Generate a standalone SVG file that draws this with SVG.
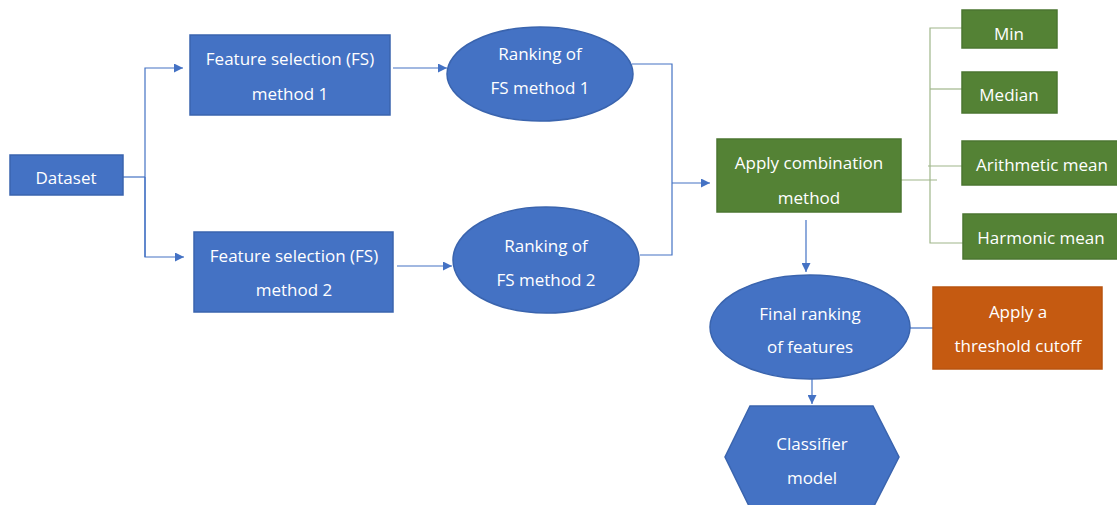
<svg xmlns="http://www.w3.org/2000/svg" width="1117" height="505" viewBox="0 0 1117 505">
  <defs>
    <style>
      .blue { fill: #4472C4; stroke: #3A64AE; stroke-width: 1.5; }
      .green { fill: #548235; stroke: #4B7630; stroke-width: 1.5; }
      .orange { fill: #C55A11; stroke: #B9540F; stroke-width: 1.5; }
      .lbl { font-family: "Open Sans", "Noto Sans", sans-serif; font-size: 17px; fill: #FFFFFF; text-anchor: middle; dominant-baseline: central; }
      .flow { fill: none; stroke: #4472C4; stroke-width: 1.2; }
      .tree { fill: none; stroke: #9FB68A; stroke-width: 1.2; }
    </style>
    <marker id="arrow" viewBox="0 0 10 10" refX="10" refY="5" markerWidth="9" markerHeight="9" markerUnits="userSpaceOnUse" orient="auto">
      <path d="M0,0 L10,5 L0,10 Z" fill="#4472C4"/>
    </marker>
  </defs>

  <!-- connectors -->
  <g id="connectors">
    <polyline class="flow" points="123,177 145,177"/>
    <polyline class="flow" points="145,257 145,68 183,68" marker-end="url(#arrow)"/>
    <polyline class="flow" points="145,177 145,257 184,257" marker-end="url(#arrow)"/>
    <line class="flow" x1="393" y1="68" x2="447" y2="68" marker-end="url(#arrow)"/>
    <line class="flow" x1="397" y1="266" x2="452" y2="266" marker-end="url(#arrow)"/>
    <polyline class="flow" points="632,64 672,64 672,255 640,255"/>
    <line class="flow" x1="672" y1="183" x2="710" y2="183" marker-end="url(#arrow)"/>
    <line class="flow" x1="806" y1="220" x2="806" y2="272" marker-end="url(#arrow)"/>
    <line class="flow" x1="910" y1="328" x2="933" y2="328"/>
    <line class="flow" x1="812" y1="378" x2="812" y2="404" marker-end="url(#arrow)"/>
    <!-- combination options -->
    <line class="tree" x1="901" y1="180" x2="937" y2="180"/>
    <polyline class="tree" points="962,28 930,28 930,243 963,243"/>
    <line class="tree" x1="930" y1="89" x2="962" y2="89"/>
    <line class="tree" x1="928" y1="166" x2="962" y2="166"/>
  </g>

  <g id="dataset">
    <rect class="blue" x="10" y="155" width="113" height="40"/>
    <text class="lbl" x="66" y="177">Dataset</text>
  </g>

  <g id="fs1">
    <rect class="blue" x="190" y="35" width="200" height="80"/>
    <text class="lbl" x="290" y="58">Feature selection (FS)</text>
    <text class="lbl" x="290" y="93">method 1</text>
  </g>

  <g id="fs2">
    <rect class="blue" x="194" y="232" width="199" height="80"/>
    <text class="lbl" x="294" y="255">Feature selection (FS)</text>
    <text class="lbl" x="294" y="289">method 2</text>
  </g>

  <g id="rank1">
    <ellipse class="blue" cx="540" cy="74" rx="93" ry="47"/>
    <text class="lbl" x="540" y="53">Ranking of</text>
    <text class="lbl" x="540" y="87">FS method 1</text>
  </g>

  <g id="rank2">
    <ellipse class="blue" cx="546" cy="260" rx="93" ry="53"/>
    <text class="lbl" x="546" y="245">Ranking of</text>
    <text class="lbl" x="546" y="279">FS method 2</text>
  </g>

  <g id="combination">
    <rect class="green" x="717" y="139" width="184" height="73"/>
    <text class="lbl" x="809" y="162">Apply combination</text>
    <text class="lbl" x="809" y="197">method</text>
  </g>

  <g id="min">
    <rect class="green" x="962" y="10" width="95" height="38"/>
    <text class="lbl" x="1009" y="33">Min</text>
  </g>

  <g id="median">
    <rect class="green" x="962" y="72" width="95" height="41"/>
    <text class="lbl" x="1009" y="94">Median</text>
  </g>

  <g id="arithmetic">
    <rect class="green" x="962" y="141" width="157" height="44"/>
    <text class="lbl" x="1042" y="164">Arithmetic mean</text>
  </g>

  <g id="harmonic">
    <rect class="green" x="963" y="214" width="156" height="45"/>
    <text class="lbl" x="1041" y="237">Harmonic mean</text>
  </g>

  <g id="final-ranking">
    <ellipse class="blue" cx="810" cy="327" rx="100" ry="52"/>
    <text class="lbl" x="810" y="313">Final ranking</text>
    <text class="lbl" x="810" y="346">of features</text>
  </g>

  <g id="threshold">
    <rect class="orange" x="933" y="287" width="169" height="82"/>
    <text class="lbl" x="1018" y="311">Apply a</text>
    <text class="lbl" x="1018" y="345">threshold cutoff</text>
  </g>

  <g id="classifier">
    <polygon class="blue" points="750,406 873,406 899,457 873,508 750,508 725,457"/>
    <text class="lbl" x="812" y="443">Classifier</text>
    <text class="lbl" x="812" y="477">model</text>
  </g>
</svg>
